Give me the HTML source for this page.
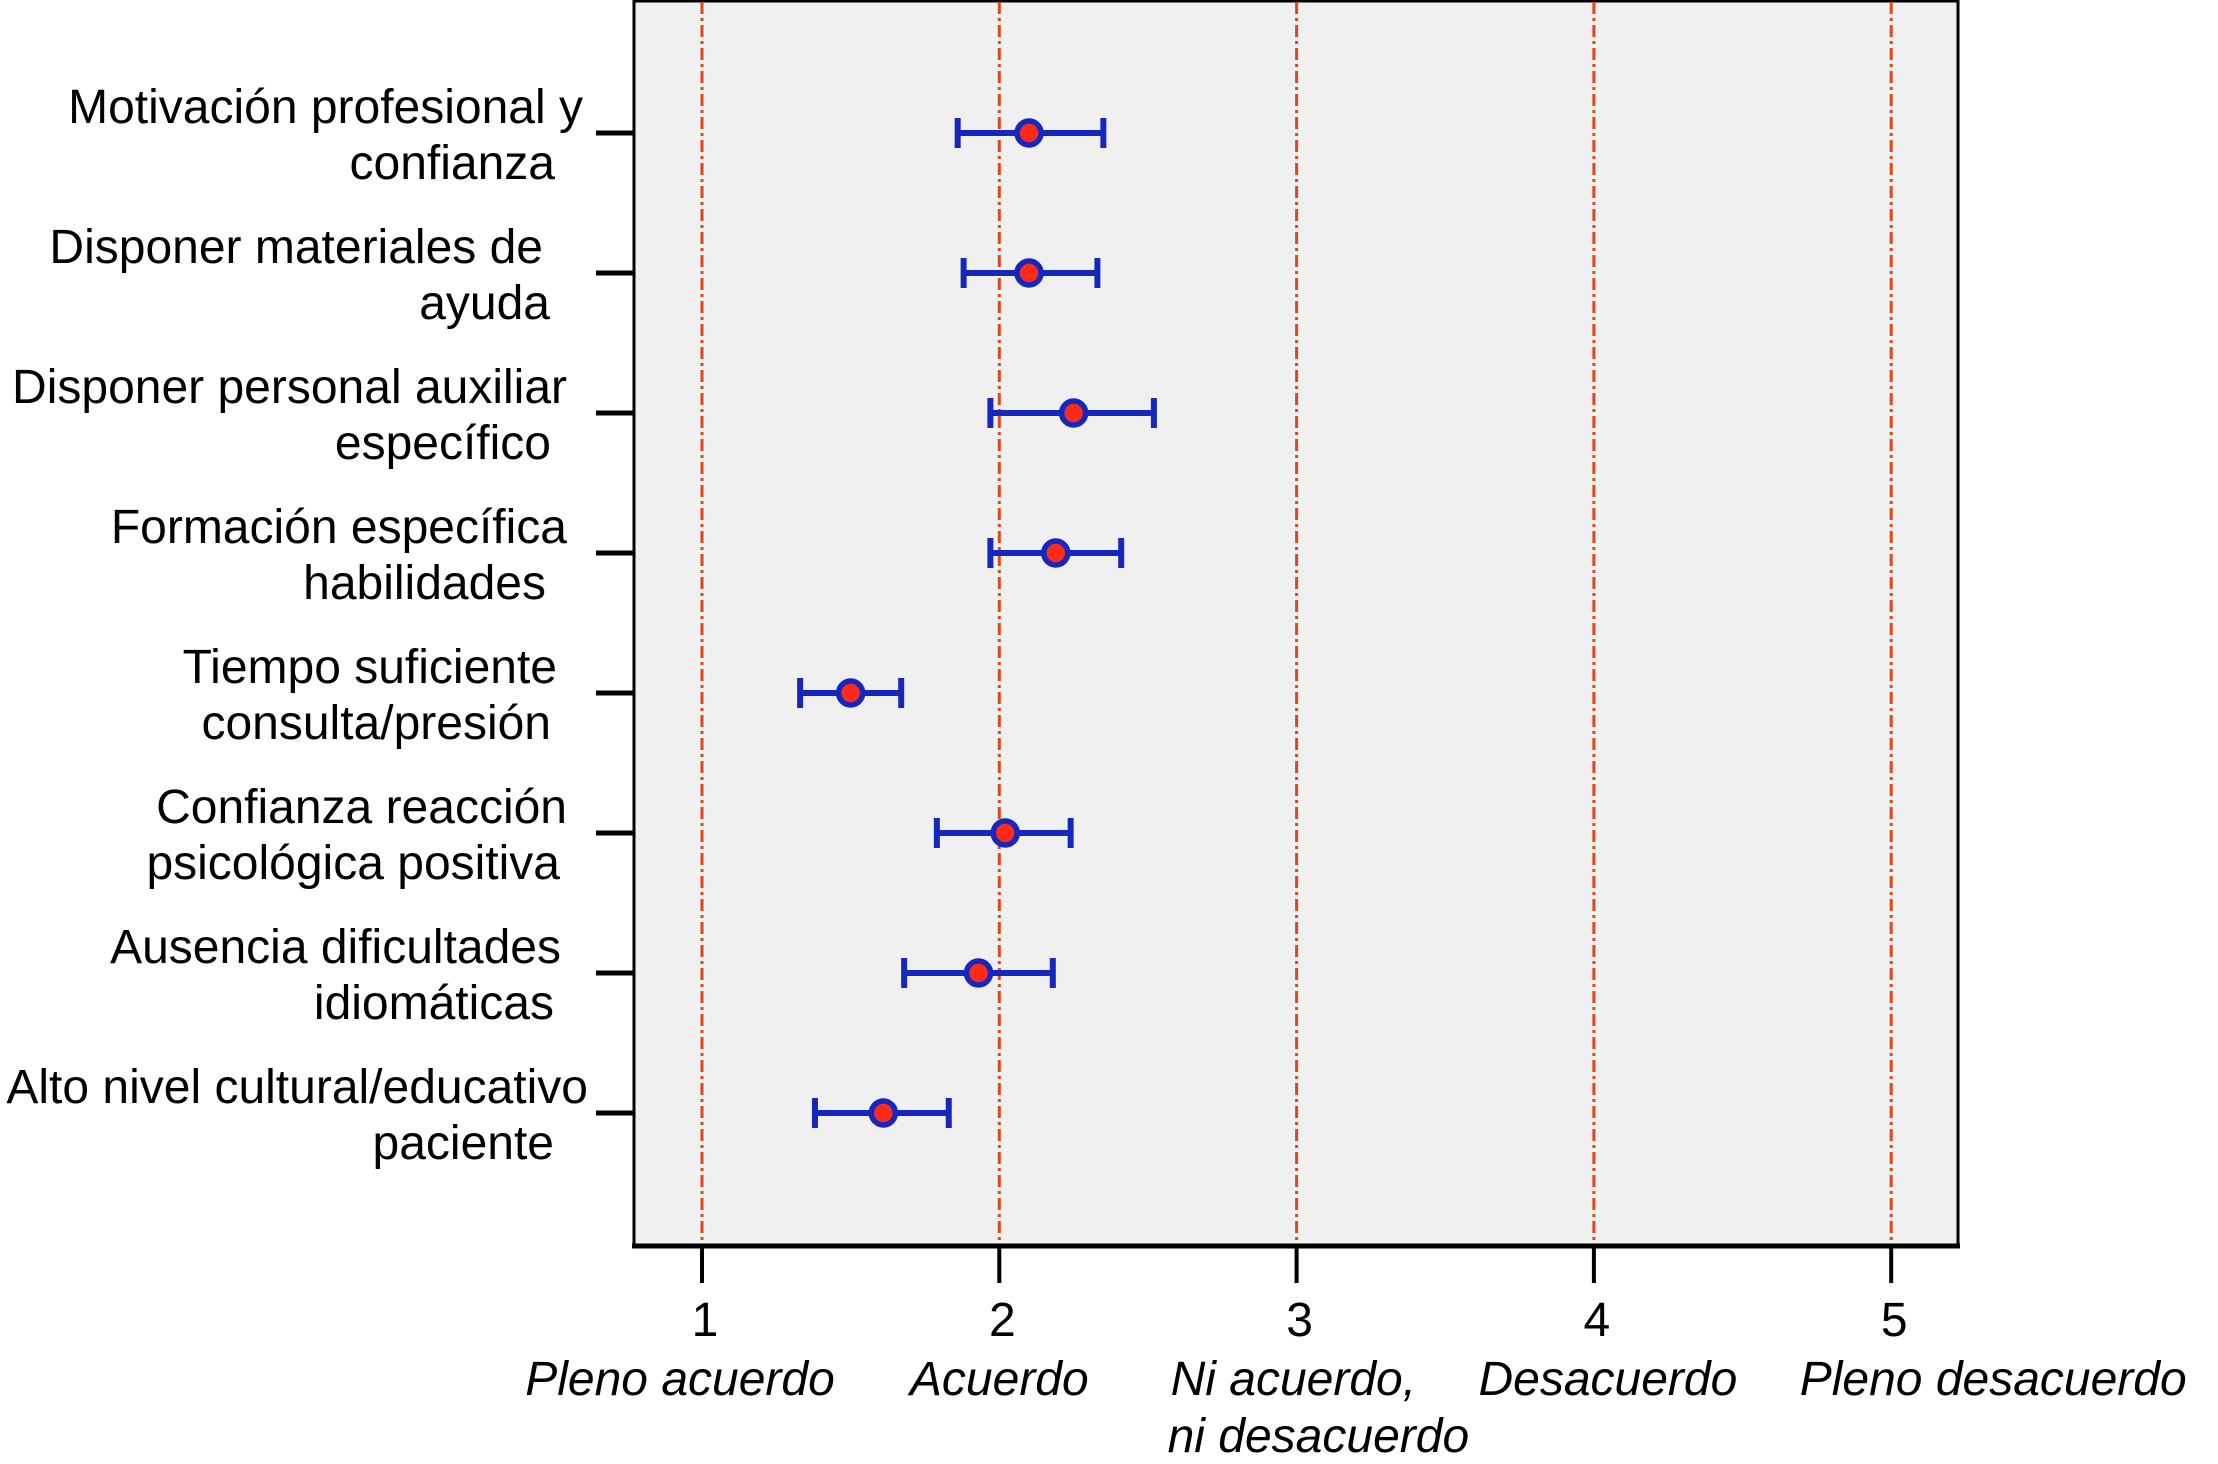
<!DOCTYPE html>
<html><head><meta charset="utf-8"><style>
html,body{margin:0;padding:0;background:#fff;}
svg{display:block;font-family:"Liberation Sans",Arial,sans-serif;}
</style></head><body>
<svg id="chart" width="2218" height="1464" viewBox="0 0 2218 1464" xmlns="http://www.w3.org/2000/svg">
<rect x="634" y="1" width="1324" height="1245" fill="#f0f0f0" stroke="#000" stroke-width="3"/>
<line x1="632" x2="1960" y1="1246" y2="1246" stroke="#000" stroke-width="5"/>
<g id="grid"></g><g id="xaxis"></g><g id="yaxis"></g><g id="marks"></g>
</svg>
<script>
const categories=[["Motivación profesional y","confianza"],["Disponer materiales de","ayuda"],["Disponer personal auxiliar","específico"],["Formación específica","habilidades"],["Tiempo suficiente","consulta/presión"],["Confianza reacción","psicológica positiva"],["Ausencia dificultades","idiomáticas"],["Alto nivel cultural/educativo","paciente"]];
const means=[2.10,2.10,2.25,2.19,1.50,2.02,1.93,1.61];
const lower=[1.86,1.88,1.97,1.97,1.33,1.79,1.68,1.38];
const upper=[2.35,2.33,2.52,2.41,1.67,2.24,2.18,1.83];
const xTicks=[1,2,3,4,5];
const xTickLabels=[["Pleno acuerdo"],["Acuerdo"],["Ni acuerdo,","ni desacuerdo"],["Desacuerdo"],["Pleno desacuerdo"]];
const line1End=[583,543,567,567,557,567,561,588];
const line2End=[555,550,551,546,551,560,554,554];

const NS="http://www.w3.org/2000/svg";
const xS=v=>702+(v-1)*297.3;
const yS=i=>133+i*140;
function mk(tag,attrs,parent){const e=document.createElementNS(NS,tag);for(const k in attrs)e.setAttribute(k,attrs[k]);parent.appendChild(e);return e;}
const grid=document.getElementById('grid'),xa=document.getElementById('xaxis'),ya=document.getElementById('yaxis'),marks=document.getElementById('marks');
function txt(parent,x,y,s,anchor,italic){
  const t=mk('text',{x:x,y:y,'font-size':48,'text-anchor':anchor,fill:'#000'},parent);
  if(italic)t.setAttribute('font-style','italic');
  t.textContent=s;return t;}
const labelPos=[[-22,'middle'],[0,'middle'],[-126,'start'],[14,'middle'],[102,'middle']];
xTicks.forEach((v,i)=>{
  const l=mk('line',{x1:xS(v),x2:xS(v),y1:2,y2:1244,stroke:'#e0461a','stroke-width':3,'stroke-dasharray':'12 4 3 4'},grid);
  
  
  const tk=mk('line',{x1:xS(v),x2:xS(v),y1:1246,y2:1283,stroke:'#000','stroke-width':4},xa);
  
  
  const n=txt(xa,xS(v)+3,1336,String(v),'middle',false);
  
  
  xTickLabels[i].forEach((s,j)=>{
    const t=txt(xa,xS(v)+labelPos[i][0]-(j*3),1395+j*57,s,labelPos[i][1],true);
    
    
  });
});
categories.forEach((c,i)=>{
  const y=yS(i);
  const tk=mk('line',{x1:596,x2:634,y1:y,y2:y,stroke:'#000','stroke-width':5},ya);
  
  
  const t1=txt(ya,line1End[i],y-10,c[0],'end',false);
  
  
  const t2=txt(ya,line2End[i],y+46,c[1],'end',false);
  
  
  const g=mk('g',{},marks);
  
  
  mk('line',{x1:xS(lower[i]),x2:xS(upper[i]),y1:y,y2:y,stroke:'#1428c0','stroke-width':6},g);
  mk('line',{x1:xS(lower[i]),x2:xS(lower[i]),y1:y-15,y2:y+15,stroke:'#1428c0','stroke-width':6},g);
  mk('line',{x1:xS(upper[i]),x2:xS(upper[i]),y1:y-15,y2:y+15,stroke:'#1428c0','stroke-width':6},g);
  const p=mk('circle',{cx:xS(means[i]),cy:y,r:12,fill:'#ff2a1a',stroke:'#1428c0','stroke-width':5.5},g);
  
  
});
</script>
</body></html>
